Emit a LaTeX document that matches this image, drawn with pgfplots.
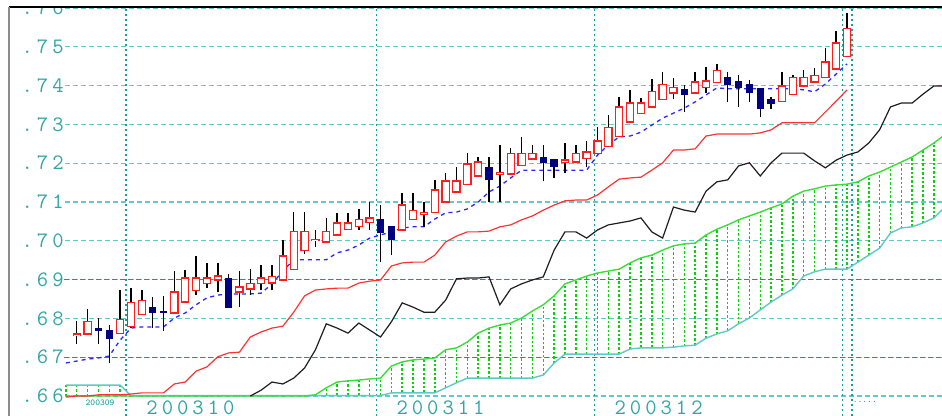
\documentclass[border=0pt]{standalone}
\usepackage{fontspec}
\usepackage{pgfplots}
\usepackage{pgfplotstable}
\pgfplotsset{compat=1.18}
\definecolor{gridlt}{RGB}{100,200,200}
\definecolor{griddk}{RGB}{20,150,150}
\definecolor{vgrid}{RGB}{20,160,160}
\definecolor{lbl}{RGB}{50,165,165}
\definecolor{candred}{RGB}{255,30,30}
\definecolor{navyc}{RGB}{0,0,128}
\definecolor{tenkanc}{RGB}{40,40,255}
\definecolor{kijunc}{RGB}{255,50,50}
\definecolor{chikouc}{RGB}{30,30,30}
\definecolor{spanA}{RGB}{60,220,60}
\definecolor{spanB}{RGB}{95,200,200}
\definecolor{hatchc}{RGB}{10,210,10}
\newcommand{\ls}{\kern2pt}
\newcommand{\lblfont}{\ttfamily\fontsize{11}{11}\selectfont}
\pgfplotsset{bars/.style={forget plot, only marks, mark size=0pt, mark options={draw=none, fill=none}}}

\pgfplotstableread{
x o h l c
0 0.6755 0.6793 0.6734 0.6760
1 0.6760 0.6824 0.6760 0.6793
4 0.6762 0.6873 0.6762 0.6798
5 0.6780 0.6878 0.6775 0.6840
6 0.6811 0.6873 0.6809 0.6847
9 0.6814 0.6922 0.6814 0.6868
10 0.6842 0.6925 0.6842 0.6904
11 0.6871 0.6961 0.6860 0.6904
12 0.6889 0.6943 0.6878 0.6904
13 0.6899 0.6943 0.6868 0.6909
15 0.6868 0.6922 0.6829 0.6881
16 0.6876 0.6927 0.6860 0.6889
17 0.6889 0.6938 0.6873 0.6904
18 0.6891 0.6938 0.6873 0.6907
19 0.6899 0.7002 0.6899 0.6961
20 0.6927 0.7074 0.6927 0.7023
21 0.6974 0.7074 0.6966 0.7023
22 0.7000 0.7028 0.6984 0.7004
23 0.6997 0.7059 0.6994 0.7023
24 0.7015 0.7072 0.7015 0.7046
25 0.7030 0.7072 0.7028 0.7046
26 0.7036 0.7082 0.7028 0.7054
27 0.7048 0.7100 0.7028 0.7059
30 0.7028 0.7123 0.7028 0.7092
31 0.7054 0.7123 0.7054 0.7079
32 0.7069 0.7100 0.7036 0.7073
33 0.7072 0.7157 0.7072 0.7131
34 0.7100 0.7175 0.7100 0.7154
35 0.7126 0.7190 0.7126 0.7154
36 0.7146 0.7226 0.7146 0.7198
37 0.7167 0.7216 0.7167 0.7203
39 0.7172 0.7247 0.7100 0.7176
40 0.7172 0.7239 0.7172 0.7226
41 0.7195 0.7268 0.7195 0.7226
42 0.7211 0.7247 0.7208 0.7226
45 0.7201 0.7252 0.7175 0.7208
46 0.7203 0.7247 0.7203 0.7226
47 0.7213 0.7257 0.7190 0.7229
48 0.7226 0.7293 0.7226 0.7257
49 0.7242 0.7324 0.7242 0.7293
50 0.7268 0.7371 0.7268 0.7345
51 0.7306 0.7389 0.7306 0.7355
52 0.7329 0.7368 0.7329 0.7355
53 0.7345 0.7417 0.7345 0.7384
54 0.7365 0.7435 0.7365 0.7402
55 0.7381 0.7420 0.7365 0.7396
57 0.7381 0.7435 0.7381 0.7409
58 0.7396 0.7448 0.7381 0.7412
59 0.7407 0.7456 0.7407 0.7438
65 0.7360 0.7435 0.7360 0.7399
66 0.7378 0.7427 0.7378 0.7420
67 0.7399 0.7440 0.7399 0.7420
68 0.7409 0.7445 0.7409 0.7425
69 0.7420 0.7497 0.7420 0.7461
70 0.7443 0.7541 0.7443 0.7510
71 0.7474 0.7587 0.7474 0.7548
}\candup

\pgfplotstableread{
x o h l c
2 0.6773 0.6801 0.6734 0.6768
3 0.6770 0.6783 0.6685 0.6749
7 0.6829 0.6855 0.6775 0.6814
8 0.6819 0.6858 0.6768 0.6814
14 0.6904 0.6914 0.6827 0.6827
28 0.7054 0.7092 0.6945 0.7020
29 0.7036 0.7036 0.6963 0.7002
38 0.7188 0.7216 0.7100 0.7157
43 0.7216 0.7247 0.7154 0.7201
44 0.7211 0.7211 0.7162 0.7190
56 0.7389 0.7402 0.7332 0.7376
60 0.7422 0.7435 0.7358 0.7402
61 0.7412 0.7427 0.7345 0.7394
62 0.7402 0.7414 0.7358 0.7381
63 0.7394 0.7394 0.7319 0.7340
64 0.7365 0.7371 0.7340 0.7353
}\canddn

\pgfplotstableread{
x y
-1 0.6685
0 0.6690
1 0.6695
2 0.6698
3 0.6703
4 0.6744
5 0.6775
6 0.6778
7 0.6778
8 0.6778
9 0.6801
10 0.6814
11 0.6835
12 0.6853
13 0.6860
14 0.6863
15 0.6863
16 0.6863
17 0.6865
18 0.6889
19 0.6922
20 0.6951
21 0.6951
22 0.6951
23 0.6951
24 0.6969
25 0.6976
26 0.6989
27 0.7007
28 0.7015
29 0.7023
30 0.7033
31 0.7036
32 0.7036
33 0.7056
34 0.7072
35 0.7074
36 0.7082
37 0.7100
38 0.7126
39 0.7141
40 0.7162
41 0.7182
42 0.7182
43 0.7182
44 0.7182
45 0.7182
46 0.7182
47 0.7182
48 0.7221
49 0.7247
50 0.7268
51 0.7270
52 0.7280
53 0.7298
54 0.7316
55 0.7329
56 0.7342
57 0.7358
58 0.7376
59 0.7394
60 0.7392
61 0.7392
62 0.7392
63 0.7392
64 0.7392
65 0.7392
66 0.7392
67 0.7389
68 0.7384
69 0.7404
70 0.7430
71 0.7456
}\tenkantab

\pgfplotstableread{
x y
-1 0.6597
0 0.6600
1 0.6600
2 0.6603
3 0.6603
4 0.6603
5 0.6605
6 0.6608
7 0.6608
8 0.6608
9 0.6631
10 0.6636
11 0.6664
12 0.6675
13 0.6701
14 0.6711
15 0.6713
16 0.6752
17 0.6765
18 0.6775
19 0.6780
20 0.6816
21 0.6858
22 0.6873
23 0.6876
24 0.6878
25 0.6878
26 0.6891
27 0.6896
28 0.6899
29 0.6935
30 0.6943
31 0.6945
32 0.6945
33 0.6963
34 0.6997
35 0.7012
36 0.7023
37 0.7023
38 0.7025
39 0.7036
40 0.7041
41 0.7054
42 0.7064
43 0.7079
44 0.7092
45 0.7103
46 0.7105
47 0.7105
48 0.7118
49 0.7139
50 0.7159
51 0.7162
52 0.7164
53 0.7182
54 0.7201
55 0.7234
56 0.7234
57 0.7237
58 0.7270
59 0.7275
60 0.7275
61 0.7275
62 0.7275
63 0.7278
64 0.7286
65 0.7304
66 0.7304
67 0.7304
68 0.7304
69 0.7332
70 0.7360
71 0.7389
}\kijuntab

\pgfplotstableread{
x y
16 0.6600
17 0.6615
18 0.6636
19 0.6631
20 0.6646
21 0.6672
22 0.6719
23 0.6786
24 0.6775
25 0.6762
26 0.6788
27 0.6770
28 0.6752
29 0.6791
30 0.6840
31 0.6829
32 0.6816
33 0.6816
34 0.6847
35 0.6902
36 0.6904
37 0.6904
38 0.6907
39 0.6835
40 0.6876
41 0.6889
42 0.6899
43 0.6907
44 0.6976
45 0.7023
46 0.7023
47 0.7007
48 0.7028
49 0.7041
50 0.7046
51 0.7051
52 0.7059
53 0.7023
54 0.7007
55 0.7087
56 0.7079
57 0.7074
58 0.7128
59 0.7152
60 0.7157
61 0.7193
62 0.7201
63 0.7167
64 0.7201
65 0.7226
66 0.7226
67 0.7226
68 0.7206
69 0.7188
70 0.7208
71 0.7221
72 0.7229
73 0.7252
74 0.7286
75 0.7345
76 0.7355
77 0.7355
78 0.7378
79 0.7399
80 0.7399
}\chikoutab

\pgfplotstableread{
x a b
-1 0.6600 0.6628
0 0.6600 0.6628
1 0.6600 0.6628
2 0.6600 0.6628
3 0.6600 0.6628
4 0.6600 0.6628
5 0.6600 0.6601
6 0.6600 0.6601
7 0.6600 0.6601
8 0.6600 0.6601
9 0.6600 0.6601
10 0.6600 0.6601
11 0.6600 0.6601
12 0.6600 0.6601
13 0.6600 0.6601
14 0.6600 0.6601
15 0.6600 0.6601
16 0.6600 0.6601
17 0.6600 0.6601
18 0.6600 0.6601
19 0.6600 0.6601
20 0.6600 0.6601
21 0.6600 0.6601
22 0.6603 0.6601
23 0.6621 0.6601
24 0.6636 0.6601
25 0.6639 0.6601
26 0.6641 0.6601
27 0.6644 0.6601
28 0.6646 0.6601
29 0.6677 0.6608
30 0.6688 0.6608
31 0.6693 0.6608
32 0.6695 0.6608
33 0.6698 0.6608
34 0.6719 0.6621
35 0.6724 0.6634
36 0.6739 0.6646
37 0.6762 0.6646
38 0.6775 0.6646
39 0.6783 0.6646
40 0.6788 0.6646
41 0.6801 0.6646
42 0.6819 0.6646
43 0.6835 0.6654
44 0.6858 0.6685
45 0.6889 0.6708
46 0.6899 0.6708
47 0.6909 0.6708
48 0.6917 0.6708
49 0.6922 0.6708
50 0.6927 0.6708
51 0.6943 0.6721
52 0.6956 0.6724
53 0.6963 0.6724
54 0.6976 0.6724
55 0.6987 0.6726
56 0.6992 0.6729
57 0.6994 0.6731
58 0.7015 0.6749
59 0.7030 0.6760
60 0.7041 0.6768
61 0.7054 0.6786
62 0.7064 0.6801
63 0.7074 0.6822
64 0.7085 0.6842
65 0.7095 0.6860
66 0.7115 0.6876
67 0.7128 0.6909
68 0.7134 0.6920
69 0.7141 0.6927
70 0.7144 0.6927
71 0.7146 0.6927
72 0.7152 0.6945
73 0.7167 0.6963
74 0.7177 0.6981
75 0.7190 0.7020
76 0.7203 0.7033
77 0.7216 0.7036
78 0.7234 0.7046
79 0.7252 0.7059
80 0.7273 0.7087
}\cloudtab

\begin{document}
\begin{tikzpicture}
\useasboundingbox (0,0) rectangle (471pt,208pt);
\begin{axis}[
  at={(4.5pt,0pt)}, anchor=south west,
  scale only axis, width=466.5pt, height=204.5pt,
  xmin=-6.24, xmax=79.75, ymin=0.654845, ymax=0.760258,
  axis line style={draw=none},
  major tick length=0pt,
  xtick=\empty,
  ytick={0.66,0.67,0.68,0.69,0.70,0.71,0.72,0.73,0.74,0.75,0.76},
  yticklabels={.\ls6\ls6,.\ls6\ls7,.\ls6\ls8,.\ls6\ls9,.\ls7\ls0,.\ls7\ls1,.\ls7\ls2,.\ls7\ls3,.\ls7\ls4,.\ls7\ls5,.\ls7\ls6},
  ymajorgrids,
  grid style={gridlt, line width=0.6pt, dash pattern=on 2.5pt off 1.5pt},
  yticklabel style={anchor=east, xshift=27.5pt, inner sep=0pt, fill=white, text width=27.5pt, align=right, text=lbl, font=\lblfont},
  extra x ticks={4.55,27.6,47.7,70.6,71.45},
  extra x tick labels={2\ls0\ls0\ls3\ls1\ls0,2\ls0\ls0\ls3\ls1\ls1,2\ls0\ls0\ls3\ls1\ls2,{},{}},
  extra x tick style={grid=major, grid style={vgrid, line width=0.65pt, dash pattern=on 1pt off 1.5pt},
    xticklabel style={anchor=north west, xshift=10pt, yshift=8pt, inner sep=0pt, text=lbl, font=\lblfont}},
]
\addplot[forget plot, griddk, line width=0.6pt, dash pattern=on 2.5pt off 1.5pt] coordinates {(-1.17,0.67) (81,0.67)};
\addplot[forget plot, griddk, line width=0.6pt, dash pattern=on 2.5pt off 1.5pt] coordinates {(-1.17,0.69) (81,0.69)};
% cloud hatch
\addplot[bars, error bars/.cd, y dir=plus, y explicit, error mark=none,
  error bar style={draw=hatchc, line width=0.75pt, dash pattern=on 1.2pt off 1pt}]
  table[x=x, y expr={min(\thisrow{a},\thisrow{b})}, y error plus expr={abs(\thisrow{a}-\thisrow{b})}] {\cloudtab};
\addplot[forget plot, spanB, line width=0.7pt] table[x=x, y=b] {\cloudtab};
\addplot[forget plot, spanA, line width=0.7pt] table[x=x, y=a] {\cloudtab};
\addplot[forget plot, chikouc, line width=0.6pt] table[x=x, y=y] {\chikoutab};
\addplot[forget plot, kijunc, line width=0.6pt] table[x=x, y=y] {\kijuntab};
\addplot[forget plot, tenkanc, line width=0.65pt, dash pattern=on 2pt off 2pt] table[x=x, y=y] {\tenkantab};
% wicks
\addplot[bars, error bars/.cd, y dir=plus, y explicit, error mark=none,
  error bar style={draw=black, line width=0.75pt}]
  table[x=x, y=l, y error plus expr={\thisrow{h}-\thisrow{l}}] {\candup};
\addplot[bars, error bars/.cd, y dir=plus, y explicit, error mark=none,
  error bar style={draw=black, line width=0.75pt}]
  table[x=x, y=l, y error plus expr={\thisrow{h}-\thisrow{l}}] {\canddn};
% up bodies
\addplot[bars, error bars/.cd, y dir=plus, y explicit, error mark=none,
  error bar style={draw=candred, line width=4.2pt}]
  table[x=x, y expr={\thisrow{o}-0.000155}, y error plus expr={\thisrow{c}-\thisrow{o}+0.00031}] {\candup};
\addplot[bars, error bars/.cd, y dir=plus, y explicit, error mark=none,
  error bar style={draw=white, line width=3.0pt}]
  table[x=x, y expr={\thisrow{o}+0.000155}, y error plus expr={max(\thisrow{c}-\thisrow{o}-0.00031,0)}] {\candup};
% down bodies
\addplot[bars, error bars/.cd, y dir=plus, y explicit, error mark=none,
  error bar style={draw=navyc, line width=3.7pt}]
  table[x=x, y expr={\thisrow{c}-0.0001}, y error plus expr={\thisrow{o}-\thisrow{c}+0.0002}] {\canddn};
\node[font=\ttfamily\fontsize{4.5}{4.5}\selectfont, text=griddk, inner sep=0pt] at (axis cs:2.15,0.6582) {200309};
\node[font=\ttfamily\fontsize{4.5}{4.5}\selectfont, text=vgrid, inner sep=0pt, anchor=west] at (axis cs:71.5,0.6584) {.....};
\end{axis}
\fill[white] (0,204.6pt) rectangle (471pt,208pt);
\draw[black, line width=0.75pt] (4.5pt,204.5pt) -- (471pt,204.5pt);
\draw[black!45, line width=1pt] (4.5pt,0pt) -- (4.5pt,204.5pt);
\end{tikzpicture}
\end{document}
